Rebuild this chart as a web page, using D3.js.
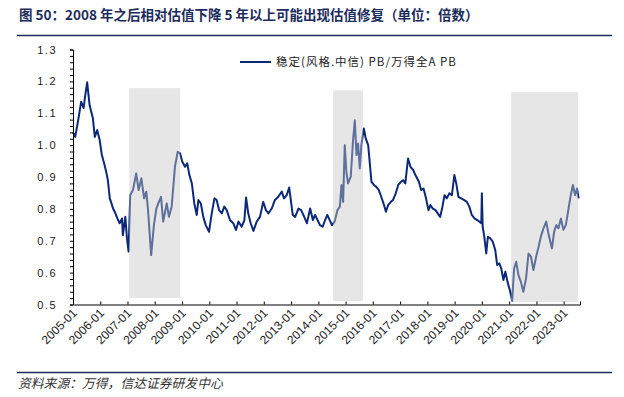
<!DOCTYPE html>
<html>
<head>
<meta charset="utf-8">
<script src="https://cdn.jsdelivr.net/npm/d3@7"></script>
<style>
body { margin: 0; background: #fff; }
svg { display: block; font-family: "Liberation Sans", Arial, sans-serif; }
</style>
</head>
<body>
<div id="chart"></div>
<script>
// series: 稳定(风格.中信) PB / 万得全A PB, dates as decimal years
var years = [
2005.00,2005.08,2005.18,2005.30,2005.39,2005.45,2005.52,2005.61,2005.73,2005.80,2005.89,2005.98,
2006.06,2006.14,2006.22,2006.28,2006.35,2006.41,2006.47,2006.53,2006.63,2006.71,2006.80,2006.83,2006.92,2006.98,
2007.04,2007.10,2007.20,2007.32,2007.41,2007.51,2007.61,2007.69,2007.75,2007.81,2007.87,2007.97,
2008.06,2008.13,2008.23,2008.31,2008.44,2008.52,2008.62,2008.68,2008.74,2008.84,2008.93,
2009.01,2009.11,2009.19,2009.27,2009.36,2009.45,2009.54,2009.60,2009.69,2009.78,2009.87,2009.99,
2010.09,2010.19,2010.27,2010.36,2010.46,2010.55,2010.64,2010.76,2010.88,2010.98,
2011.07,2011.19,2011.29,2011.35,2011.43,2011.52,2011.62,2011.74,2011.86,2011.98,
2012.08,2012.17,2012.29,2012.41,2012.53,2012.66,2012.74,2012.84,2012.93,2012.99,
2013.06,2013.15,2013.27,2013.37,2013.45,2013.58,2013.70,2013.80,2013.88,2013.97,
2014.06,2014.16,2014.25,2014.33,2014.50,2014.60,2014.70,2014.79,2014.85,2014.91,2014.97,
2015.03,2015.09,2015.19,2015.28,2015.34,2015.40,2015.46,2015.52,2015.58,2015.67,2015.74,2015.83,2015.89,2015.95,
2016.04,2016.13,2016.22,2016.31,2016.41,2016.48,2016.56,2016.66,2016.74,2016.84,2016.93,
2017.03,2017.11,2017.19,2017.29,2017.38,2017.48,2017.56,2017.69,2017.77,2017.86,2017.95,
2018.04,2018.11,2018.20,2018.30,2018.38,2018.47,2018.54,2018.63,2018.71,2018.81,2018.90,2018.99,
2019.06,2019.14,2019.24,2019.34,2019.45,2019.54,2019.63,2019.73,2019.83,2019.91,2019.98,
2020.00,2020.03,2020.09,2020.16,2020.22,2020.30,2020.40,2020.49,2020.56,2020.64,2020.71,2020.79,2020.86,2020.94,
2021.04,2021.11,2021.18,2021.26,2021.34,2021.43,2021.52,2021.62,2021.71,2021.80,2021.89,2021.99,
2022.08,2022.16,2022.26,2022.36,2022.44,2022.57,2022.65,2022.73,2022.81,2022.90,2022.99,
2023.08,2023.18,2023.26,2023.34,2023.42,2023.49,2023.55
];
var ratio = [
1.040,1.026,1.073,1.136,1.116,1.157,1.197,1.125,1.084,1.026,1.047,1.016,
0.969,0.944,0.916,0.890,0.833,0.818,0.801,0.791,0.770,0.755,0.770,0.718,0.775,0.708,
0.666,0.843,0.859,0.911,0.859,0.896,0.833,0.854,0.801,0.728,0.655,0.749,
0.801,0.817,0.838,0.760,0.817,0.775,0.807,0.869,0.932,0.979,0.974,
0.948,0.932,0.943,0.906,0.880,0.817,0.781,0.828,0.817,0.775,0.749,0.728,
0.786,0.833,0.828,0.796,0.786,0.807,0.796,0.765,0.755,0.734,
0.760,0.744,0.765,0.836,0.786,0.755,0.731,0.760,0.775,0.822,
0.796,0.786,0.801,0.828,0.838,0.854,0.833,0.843,0.867,0.828,
0.781,0.775,0.801,0.796,0.781,0.755,0.801,0.765,0.781,0.765,
0.749,0.744,0.765,0.781,0.749,0.760,0.796,0.807,0.875,0.822,1.000,
0.916,0.880,0.901,1.021,1.078,0.969,1.005,0.927,1.000,1.052,1.021,1.000,0.943,0.885,
0.875,0.869,0.859,0.838,0.812,0.791,0.812,0.822,0.828,0.849,0.875,
0.885,0.890,0.880,0.958,0.932,0.922,0.906,0.885,0.859,0.864,0.833,
0.796,0.812,0.801,0.796,0.786,0.775,0.801,0.843,0.833,0.849,0.843,0.906,
0.880,0.838,0.833,0.828,0.822,0.807,0.781,0.770,0.765,0.760,0.755,
0.849,0.744,0.712,0.660,0.712,0.708,0.697,0.671,0.624,0.629,0.613,0.577,0.603,0.571,
0.540,0.511,0.613,0.634,0.592,0.571,0.540,0.582,0.660,0.650,0.608,0.650,
0.681,0.712,0.739,0.760,0.723,0.676,0.728,0.749,0.739,0.770,0.734,
0.749,0.801,0.843,0.875,0.843,0.864,0.833
];
// shaded periods
var shadeStart = [2007.06, 2014.54, 2021.07];
var shadeEnd = [2008.93, 2015.64, 2023.53];
var shadeTop = [1.179, 1.172, 1.166];
var shadeBottom = [0.520, 0.511, 0.508];

var yTicks = [0.5, 0.6, 0.7, 0.8, 0.9, 1.0, 1.1, 1.2, 1.3];

function toDate(y) {
  var yr = Math.floor(y);
  var t0 = Date.UTC(yr, 0, 1), t1 = Date.UTC(yr + 1, 0, 1);
  return new Date(t0 + (y - yr) * (t1 - t0));
}

var data = years.map(function(d, i) { return {date: toDate(d), value: ratio[i]}; });
var shades = shadeStart.map(function(d, i) {
  return {x0: toDate(d), x1: toDate(shadeEnd[i]), top: shadeTop[i], bottom: shadeBottom[i]};
});

var W = 624, H = 397;
var svg = d3.select("#chart").append("svg").attr("width", W).attr("height", H);

var x = d3.scaleUtc().domain([toDate(2005.0), toDate(2023.6)]).range([73, 580]);
var y = d3.scaleLinear().domain([0.5, 1.3]).range([304.5, 49.5]);

// title
svg.append("text")
  .attr("x", 19).attr("y", 20)
  .style("font-family", "'Noto Sans CJK SC', sans-serif")
  .style("font-size", "13.5px").style("font-weight", "bold")
  .attr("fill", "#1c2c5c")
  .text("图 50：2008 年之后相对估值下降 5 年以上可能出现估值修复（单位：倍数）");
svg.append("line").attr("x1", 17).attr("x2", 612).attr("y1", 35.5).attr("y2", 35.5)
  .attr("stroke", "#1c2c5c").attr("stroke-width", 1.5);

// line
var line = d3.line().x(function(d) { return x(d.date); }).y(function(d) { return y(d.value); });
svg.append("path").datum(data)
  .attr("fill", "none").attr("stroke", "#0c2878").attr("stroke-width", 2)
  .attr("stroke-linejoin", "round")
  .attr("d", line);

// shaded rects drawn on top
svg.selectAll(".shade").data(shades).enter().append("rect")
  .attr("class", "shade")
  .attr("x", function(d) { return x(d.x0); })
  .attr("width", function(d) { return x(d.x1) - x(d.x0); })
  .attr("y", function(d) { return y(d.top); })
  .attr("height", function(d) { return y(d.bottom) - y(d.top); })
  .attr("fill", "#c8c8c8").attr("fill-opacity", 0.45);

// y axis
var yAxis = svg.append("g").attr("transform", "translate(73,0)")
  .call(d3.axisLeft(y).tickValues(d3.range(0.5, 1.3001, 0.02)).tickSize(3).tickFormat(""));
yAxis.select(".domain").attr("stroke", "#000");
yAxis.selectAll(".tick line").attr("stroke", "#000");
svg.append("g").selectAll("text").data(yTicks).enter().append("text")
  .attr("x", 57).attr("y", function(d) { return y(d) + 4; })
  .attr("text-anchor", "end")
  .style("font-size", "11px").style("letter-spacing", "1.5px")
  .attr("fill", "#222")
  .text(d3.format(".1f"));

// x axis
var xAxis = svg.append("g").attr("transform", "translate(0,304.5)")
  .call(d3.axisBottom(x).ticks(d3.utcYear.every(1)).tickSize(-3).tickFormat(d3.utcFormat("%Y-%m")));
xAxis.select(".domain").attr("stroke", "#000");
xAxis.selectAll(".tick line").attr("stroke", "#000");
xAxis.selectAll("text")
  .style("font-size", "12px").style("font-family", "'Liberation Sans', Arial, sans-serif")
  .attr("fill", "#222")
  .style("text-anchor", "end")
  .attr("dx", "-0.3em").attr("dy", "0.55em")
  .attr("transform", "rotate(-45)");

// legend
svg.append("line").attr("x1", 240).attr("x2", 271).attr("y1", 62).attr("y2", 62)
  .attr("stroke", "#0c2878").attr("stroke-width", 2);
svg.append("text").attr("x", 276).attr("y", 66)
  .style("font-family", "'Noto Sans CJK SC', sans-serif").style("font-size", "11.5px")
  .style("letter-spacing", "1px")
  .attr("fill", "#222")
  .text("稳定(风格.中信) PB/万得全A PB");

// footer
svg.append("line").attr("x1", 17).attr("x2", 612).attr("y1", 372.5).attr("y2", 372.5)
  .attr("stroke", "#1c2c5c").attr("stroke-width", 1.5);
svg.append("text").attr("x", 18).attr("y", 388)
  .style("font-family", "'Noto Sans CJK SC', sans-serif").style("font-size", "12.8px")
  .style("font-style", "italic").attr("fill", "#333")
  .text("资料来源：万得，信达证券研发中心");
</script>
</body>
</html>
